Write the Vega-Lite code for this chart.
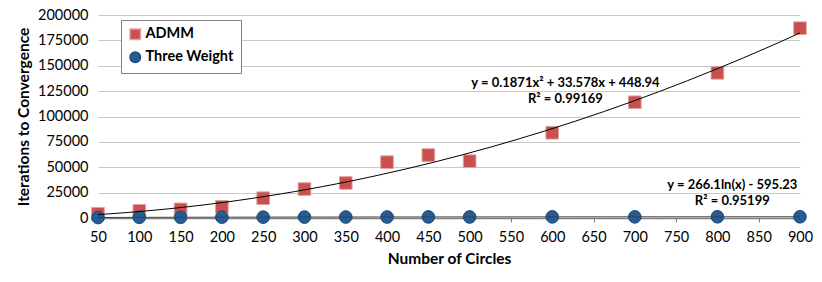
{
  "$schema": "https://vega.github.io/schema/vega-lite/v6.json",
  "width": 702,
  "height": 203,
  "autosize": {"type": "none"},
  "padding": {"left": 98, "top": 15, "right": 22, "bottom": 64},
  "background": "white",
  "config": {
    "font": "Lato",
    "view": {"stroke": null},
    "axis": {"labelFont": "Lato", "titleFont": "Lato", "labelColor": "#000", "titleColor": "#000"}
  },
  "datasets": {
    "pts": [
      {"n": 50, "it": 4200, "series": "ADMM"},
      {"n": 100, "it": 7000, "series": "ADMM"},
      {"n": 150, "it": 8500, "series": "ADMM"},
      {"n": 200, "it": 11000, "series": "ADMM"},
      {"n": 250, "it": 19500, "series": "ADMM"},
      {"n": 300, "it": 28500, "series": "ADMM"},
      {"n": 350, "it": 34500, "series": "ADMM"},
      {"n": 400, "it": 55000, "series": "ADMM"},
      {"n": 450, "it": 62000, "series": "ADMM"},
      {"n": 500, "it": 56000, "series": "ADMM"},
      {"n": 600, "it": 84000, "series": "ADMM"},
      {"n": 700, "it": 114000, "series": "ADMM"},
      {"n": 800, "it": 143000, "series": "ADMM"},
      {"n": 900, "it": 187000, "series": "ADMM"},
      {"n": 50, "it": 420, "series": "Three Weight"},
      {"n": 100, "it": 680, "series": "Three Weight"},
      {"n": 150, "it": 700, "series": "Three Weight"},
      {"n": 200, "it": 850, "series": "Three Weight"},
      {"n": 250, "it": 860, "series": "Three Weight"},
      {"n": 300, "it": 900, "series": "Three Weight"},
      {"n": 350, "it": 990, "series": "Three Weight"},
      {"n": 400, "it": 980, "series": "Three Weight"},
      {"n": 450, "it": 1050, "series": "Three Weight"},
      {"n": 500, "it": 1040, "series": "Three Weight"},
      {"n": 600, "it": 1120, "series": "Three Weight"},
      {"n": 700, "it": 1130, "series": "Three Weight"},
      {"n": 800, "it": 1200, "series": "Three Weight"},
      {"n": 900, "it": 1210, "series": "Three Weight"}
    ],
    "labels": [
      {"n": 616, "it": 133000, "t": "y = 0.1871x² + 33.578x + 448.94"},
      {"n": 616, "it": 117300, "t": "R² = 0.99169"},
      {"n": 818, "it": 32500, "t": "y = 266.1ln(x) - 595.23"},
      {"n": 818, "it": 16800, "t": "R² = 0.95199"}
    ]
  },
  "encoding": {
    "x": {
      "field": "n", "type": "quantitative",
      "scale": {"domain": [50, 900], "nice": false, "zero": false},
      "axis": {
        "title": "Number of Circles", "titleFontSize": 15.5, "titleFontWeight": "bold", "titlePadding": 8,
        "values": [50,100,150,200,250,300,350,400,450,500,550,600,650,700,750,800,850,900],
        "labelOverlap": false, "labelFlush": false,
        "labelFontSize": 14.5, "labelPadding": 8, "grid": false,
        "domainColor": "#7f7f7f", "domainWidth": 1.5, "tickColor": "#7f7f7f", "tickSize": 4, "offset": 0
      }
    },
    "y": {
      "field": "it", "type": "quantitative",
      "scale": {"domain": [0, 200000], "nice": false},
      "axis": {
        "title": "Iterations to Convergence", "titleFontSize": 15.5, "titleFontWeight": "bold", "titlePadding": 6,
        "values": [0,25000,50000,75000,100000,125000,150000,175000,200000],
        "labelOverlap": false, "labelFlush": false,
        "labelFontSize": 14.5, "labelPadding": 10, "domain": false, "ticks": false,
        "gridColor": "#c8c8c8", "gridWidth": 1, "format": "d"
      }
    }
  },
  "layer": [
    {
      "data": {"name": "pts"},
      "mark": {"type": "point", "filled": true, "opacity": 1, "strokeWidth": 1, "size": 160},
      "encoding": {
        "color": {
          "field": "series", "type": "nominal",
          "scale": {"domain": ["ADMM", "Three Weight"], "range": ["#C9504D", "#245C96"]},
          "legend": {
            "title": null, "orient": "none", "legendX": 23, "legendY": 5,
            "labelFontSize": 14.5, "labelFontWeight": "bold", "labelColor": "#000", "labelOffset": 3,
            "strokeColor": "#808080", "fillColor": "white", "padding": 7,
            "rowPadding": 6, "symbolSize": 110, "symbolOffset": 0
          }
        },
        "shape": {
          "field": "series", "type": "nominal",
          "scale": {"domain": ["ADMM", "Three Weight"], "range": ["square", "circle"]}
        },
        "stroke": {
          "field": "series", "type": "nominal",
          "scale": {"domain": ["ADMM", "Three Weight"], "range": ["#E0A3A1", "#1C4A7C"]}
        }
      }
    },
    {
      "data": {"name": "pts"},
      "transform": [
        {"filter": "datum.series === 'ADMM'"},
        {"regression": "it", "on": "n", "method": "poly", "order": 2}
      ],
      "mark": {"type": "line", "color": "#000", "strokeWidth": 1},
      "encoding": {}
    },
    {
      "data": {"name": "pts"},
      "transform": [
        {"filter": "datum.series === 'Three Weight'"},
        {"regression": "it", "on": "n", "method": "log"}
      ],
      "mark": {"type": "line", "color": "#404040", "strokeWidth": 1},
      "encoding": {}
    },
    {
      "data": {"name": "labels"},
      "mark": {"type": "text", "font": "Lato", "fontSize": 13, "fontWeight": "bold", "color": "#000", "align": "center", "baseline": "middle"},
      "encoding": {
        "text": {"field": "t", "type": "nominal"}
      }
    }
  ]
}
